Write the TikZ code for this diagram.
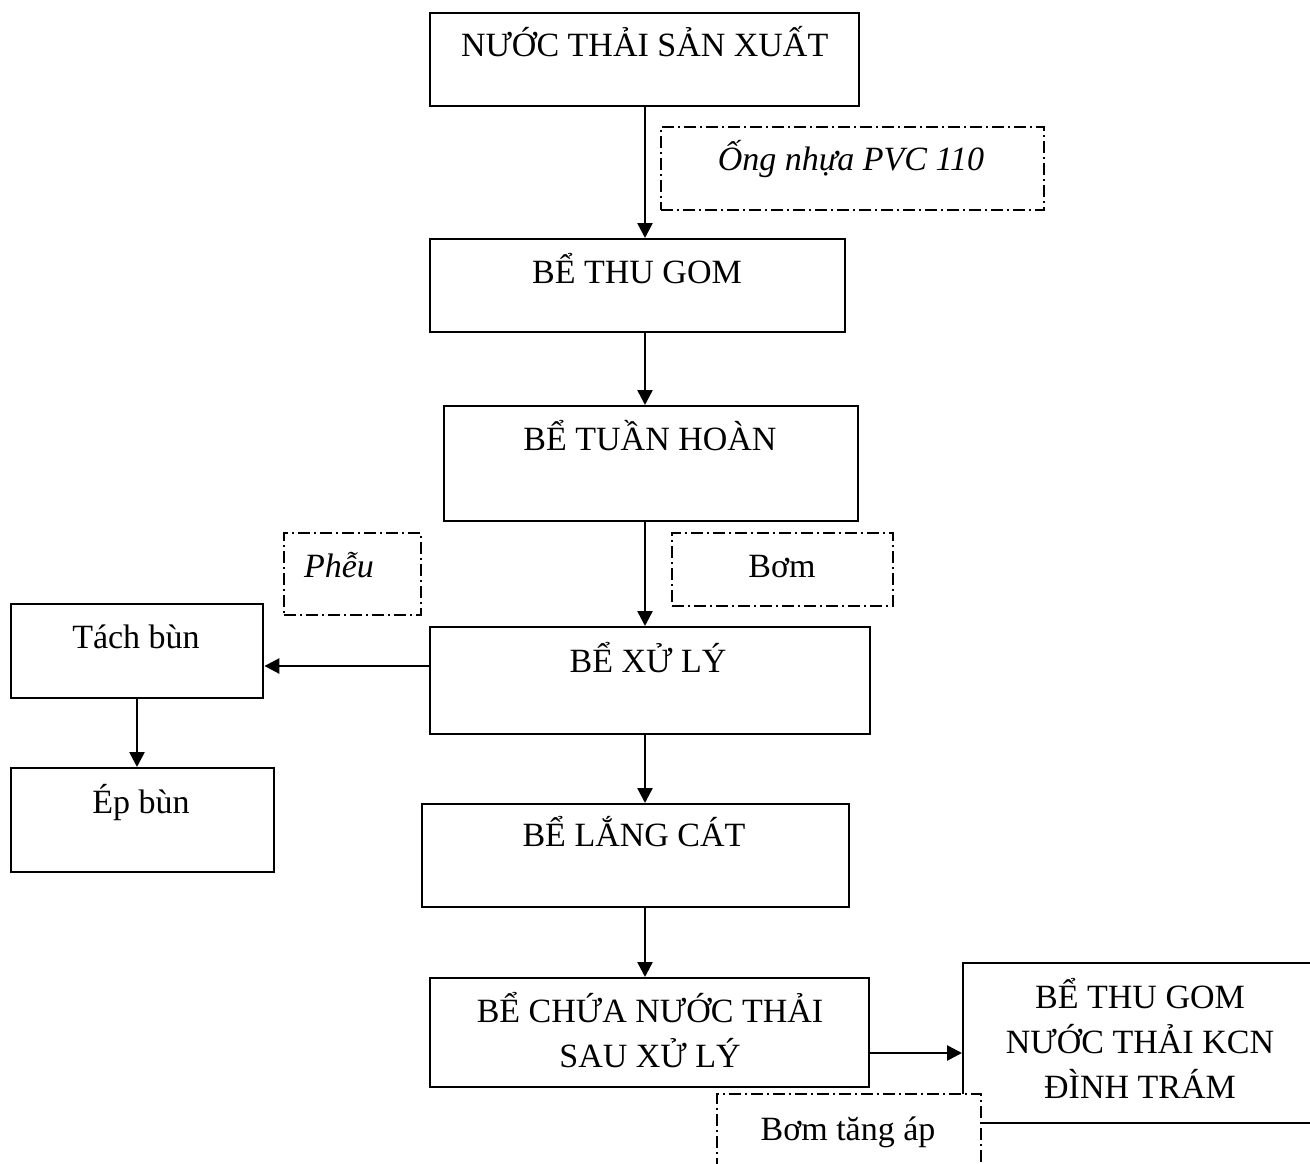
\documentclass[tikz,border=0pt]{standalone}
\usepackage{fontspec}
\setmainfont{Liberation Serif}
\usetikzlibrary{arrows.meta}

\tikzset{
  box/.style={draw, line width=2.4pt, fill=white, inner sep=0pt, anchor=north west},
  note/.style={draw, line width=1.7pt, fill=white, inner sep=0pt, anchor=north west,
    dash pattern=on 12pt off 4pt on 2pt off 4pt},
  txt/.style={font=\fontsize{34}{45}\selectfont, inner sep=0pt, align=center, anchor=base},
  itx/.style={txt, font=\fontsize{34}{45}\selectfont\itshape},
  flow/.style={line width=2.6pt, -{Triangle[length=15pt,width=15pt]}},
}

\begin{document}
\begin{tikzpicture}[x=1pt, y=-1pt]
\useasboundingbox (0,0) rectangle (1310,1164);

% process boxes
\node[box, minimum width=429pt, minimum height=93pt] (src) at (429,12) {};
\node[txt] at (src.north |- 0,57) {NƯỚC THẢI SẢN XUẤT};

\node[box, minimum width=415pt, minimum height=93pt] (gom) at (429,238) {};
\node[txt] at (637,283) {BỂ THU GOM};

\node[box, minimum width=414pt, minimum height=115pt] (tuan) at (443,405) {};
\node[txt] at (650,450) {BỂ TUẦN HOÀN};

\node[box, minimum width=440pt, minimum height=107pt] (xuly) at (429,626) {};
\node[txt] at (648,672) {BỂ XỬ LÝ};

\node[box, minimum width=252pt, minimum height=94pt] (tach) at (10,603) {};
\node[txt] at (136,648) {Tách bùn};

\node[box, minimum width=263pt, minimum height=104pt] (ep) at (10,767) {};
\node[txt] at (141,813) {Ép bùn};

\node[box, minimum width=427pt, minimum height=103pt] (lang) at (421,803) {};
\node[txt] at (634,846) {BỂ LẮNG CÁT};

\node[box, minimum width=439pt, minimum height=109pt] (chua) at (429,977) {};
% multi-line labels: base anchor sits on the last line
\node[txt] at (650,1067) {BỂ CHỨA NƯỚC THẢI\\SAU XỬ LÝ};

\node[box, minimum width=356pt, minimum height=160pt] (kcn) at (962,962) {};
\node[txt] at (1140,1098) {BỂ THU GOM\\NƯỚC THẢI KCN\\ĐÌNH TRÁM};

% dash-dot notes
\node[note, minimum width=383pt, minimum height=83pt] (ong) at (660,126) {};
\node[itx] at (851,170) {Ống nhựa PVC 110};

\node[note, minimum width=137pt, minimum height=82pt] (pheu) at (283,532) {};
\node[itx] at (339,577) {Phễu};

\node[note, minimum width=221pt, minimum height=73pt] (bom) at (671,532) {};
\node[txt] at (782,577) {Bơm};

\node[note, minimum width=264pt, minimum height=90pt] (tang) at (716,1093) {};
\node[txt] at (848,1140) {Bơm tăng áp};

% flow arrows
\draw[flow] (src.south -| 645,0) -- (gom.north -| 645,0);
\draw[flow] (gom.south -| 645,0) -- (tuan.north -| 645,0);
\draw[flow] (tuan.south -| 645,0) -- (xuly.north -| 645,0);
\draw[flow] (xuly.west |- 0,666) -- (tach.east |- 0,666);
\draw[flow] (tach.south -| 137,0) -- (ep.north -| 137,0);
\draw[flow] (xuly.south -| 645,0) -- (lang.north -| 645,0);
\draw[flow] (lang.south -| 645,0) -- (chua.north -| 645,0);
\draw[flow] (chua.east |- 0,1053) -- (kcn.west |- 0,1053);
\end{tikzpicture}
\end{document}
